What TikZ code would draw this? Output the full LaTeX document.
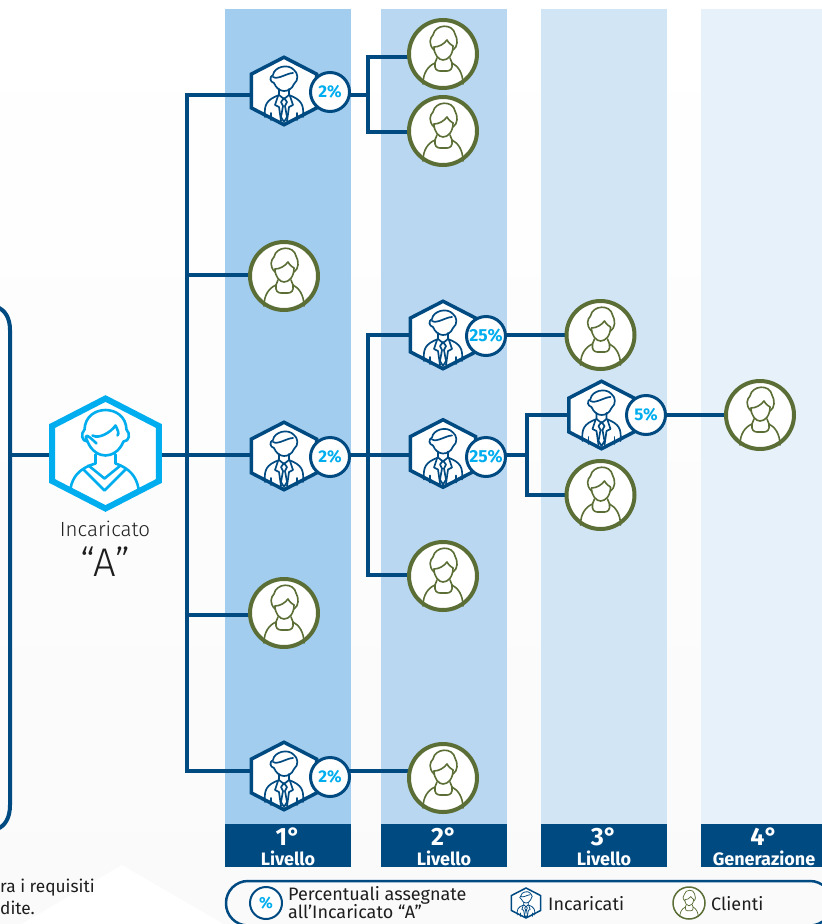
\documentclass[tikz,border=0pt]{standalone}
\usepackage{fontspec}
\setmainfont{Fira Sans}
\newfontfamily\thinfont{Fira Sans Light}
\usetikzlibrary{shapes.geometric,calc}
\definecolor{navy}{HTML}{004A82}
\definecolor{sky}{HTML}{00AEEF}
\definecolor{olive}{HTML}{5A6E35}
\definecolor{bandA}{HTML}{A3CDEE}
\definecolor{bandB}{HTML}{B9D7F0}
\definecolor{bandC}{HTML}{D2E5F5}
\definecolor{bandD}{HTML}{E6F1FA}
\definecolor{papertop}{HTML}{FFFFFF}
\definecolor{paperbot}{HTML}{FAFAFB}
\definecolor{ink}{HTML}{1E1E1E}
\pgfdeclarelayer{bandlayer}
\pgfdeclarelayer{linklayer}
\pgfsetlayers{bandlayer,linklayer,main}
\tikzset{
  x=1pt,y=-1pt,
  link/.style={draw=navy,line width=4pt,line join=miter},
  hexany/.style={regular polygon,regular polygon sides=6,shape border rotate=30,inner sep=0pt,outer sep=0pt,fill=white,xscale=1.12,transform shape},
  hexsmall/.style={hexany,minimum size=67.5pt,draw=navy,line width=3.5pt},
  hexbig/.style={hexany,minimum size=110pt,draw=sky,line width=6pt},
  hexlegend/.style={hexany,minimum size=30pt,draw=navy,line width=1.5pt},
  client/.style={circle,minimum size=68pt,inner sep=0pt,outer sep=0pt,draw=olive,line width=4pt,fill=white},
  clientlegend/.style={circle,minimum size=32pt,inner sep=0pt,outer sep=0pt,draw=olive,line width=1.5pt,fill=white},
  badge/.style={circle,minimum size=39pt,inner sep=0pt,outer sep=0pt,draw=navy,line width=3pt,fill=white,text=sky,font=\bfseries\fontsize{17}{17}\selectfont},
  badgewide/.style={badge,font=\bfseries\fontsize{17.5}{17.5}\selectfont},
  head/.style={fill=navy,text=white,minimum width=126pt,minimum height=43pt,inner sep=0pt,outer sep=0pt},
  ttl/.style={text=white,font=\bfseries\fontsize{18}{18}\selectfont,inner sep=0pt},
  num/.style={text=white,font=\bfseries\fontsize{25}{25}\selectfont,inner sep=0pt},
  txt/.style={text=ink,font=\fontsize{18}{18}\selectfont,inner sep=0pt,anchor=west},
  pics/exec/.style={code={
    \begin{scope}[scale=#1,draw=navy,line width=1.7pt*#1,line cap=round,line join=round]
      \draw (-10,-8) .. controls (-14,-9) and (-15,-14) .. (-11,-16) .. controls (-10,-24) and (4,-28) .. (10,-21) .. controls (14,-18) and (15,-11) .. (10,-7) .. controls (8,-2) and (4,0) .. (0,0) .. controls (-4,0) and (-8,-3) .. (-10,-8) -- cycle;
      \draw (-11,-14) .. controls (-6,-11) and (3,-18) .. (9,-18);
      \draw (-5,-2) -- (-5,4) -- (0,8) -- (5,4) -- (5,-2);
      \draw (-19,26) .. controls (-20,14) and (-18,9) .. (-5,4);
      \draw (19,26) .. controls (20,14) and (18,9) .. (5,4);
      \draw (-6,5) -- (-9,14) -- (-5,16) -- (-3,30);
      \draw (6,5) -- (9,14) -- (5,16) -- (3,30);
      \draw (0,7) -- (-3,11) -- (-1,15) -- (-3,26) -- (0,31) -- (3,26) -- (1,15) -- (3,11) -- cycle;
      \draw (-13,22) -- (-13,29);
      \draw (13,22) -- (13,29);
    \end{scope}}},
  pics/woman/.style={code={
    \begin{scope}[scale=#1,draw=olive,line width=1.6pt*#1,line cap=round,line join=round]
      \draw (-9,-4) .. controls (-15,-10) and (-13,-16) .. (-10,-19) .. controls (-8,-30) and (10,-31) .. (12,-20) .. controls (15,-15) and (15,-7) .. (10,-4);
      \draw (-9,-7) .. controls (-4,-7) and (1,-10) .. (4,-14) .. controls (6,-10) and (9,-9) .. (10,-8);
      \draw (-9,-7) .. controls (-9,1) and (-4,6) .. (0,6) .. controls (5,6) and (10,1) .. (10,-8);
      \draw (-6,4) -- (-8,9) .. controls (-9,15) and (-6,17) .. (-3,17) -- (4,17) .. controls (7,17) and (10,15) .. (9,9) -- (7,4);
      \draw (-8,9) .. controls (-15,12) and (-20,19) .. (-20,30);
      \draw (9,9) .. controls (15,12) and (20,19) .. (20,30);
    \end{scope}}},
  pics/agent/.style={code={
    \begin{scope}[draw=sky,line width=2.6pt,line cap=round,line join=round]
      \draw (-18,-12) .. controls (-24,-12) and (-25,-20) .. (-21,-24) .. controls (-20,-50) and (20,-50) .. (21,-24) .. controls (25,-20) and (24,-12) .. (18,-12) .. controls (14,-2) and (6,2) .. (0,2) .. controls (-6,2) and (-14,-2) .. (-18,-12) -- cycle;
      \draw (-18,-12) .. controls (-22,-20) and (-19,-20) .. (-9,-10);
      \draw (-13,-18) .. controls (-6,-14) and (6,-22) .. (10,-28) .. controls (12,-24) and (14,-20) .. (12,-18);
      \draw (-10,1) -- (-10,10);
      \draw (10,1) -- (10,10);
      \draw (-35,35) .. controls (-33,24) and (-27,15) .. (-10,10);
      \draw (33,35) .. controls (31,24) and (25,15) .. (10,10);
      \draw (-17,12) -- (-1,25) -- (15,12);
      \draw (-22,16) -- (-1,37) -- (20,16);
    \end{scope}}}
}
\begin{document}
\begin{tikzpicture}
\useasboundingbox (0,0) rectangle (822,924);
\begin{pgfonlayer}{bandlayer}
  \clip (0,0) rectangle (822,924);
  \shade[top color=papertop,bottom color=paperbot] (0,0) rectangle (822,924);
  \fill[white] (122,865) -- (225,925) -- (20,925) -- cycle;
  \fill[bandA] (225,9) rectangle (351,824);
  \fill[bandB] (381,9) rectangle (507,824);
  \fill[bandC] (541,9) rectangle (667,824);
  \fill[bandD] (701,9) rectangle (827,824);
\end{pgfonlayer}

% headers
\node[head] (ha) at (288,845.5) {};
\node[head] (hb) at (444,845.5) {};
\node[head] (hc) at (604,845.5) {};
\node[head] (hd) at (764,845.5) {};
\node[num] (na) at (288,836.5) {1°};
\node[ttl] (ta) at (288,858) {Livello};
\node[num] (nb) at (444,836.5) {2°};
\node[ttl] (tb) at (444,858) {Livello};
\node[num] (nc) at (604,836.5) {3°};
\node[ttl] (tc) at (604,858) {Livello};
\node[num] (nd) at (764,836.5) {4°};
\node[ttl] (td) at (764,858) {Generazione};

% left frame
\coordinate (fa) at (-3,307);
\coordinate (fb) at (-3,829);
\draw[navy,line width=4pt] (fa) .. controls (5,310) and (10,318) .. (10,330) -- (10,805) .. controls (10,818) and (5,826) .. (fb);

% main node
\node[hexbig] (A) at (105.5,453.5) {};
\pic at (A.center) {agent};
\node[text=ink,inner sep=0pt,font=\fontsize{20.5}{20.5}\selectfont\thinfont] (Atext) at (105,529) {Incaricato};
\node[text=ink,inner sep=0pt,font=\fontsize{40}{40}\selectfont\thinfont] (Aq) at (105,562) {“A”};

% executives
\foreach \n/\x/\y/\bx/\by/\t/\s in {
  e1/284/91/330/92/2\%/badge,
  e2/284/456/330/457/2\%/badge,
  e3/284/776/330/777/2\%/badge,
  e4/443/335/486/336/25\%/badgewide,
  e5/443/453.5/486/457/25\%/badgewide,
  e6/601.5/415/646/415/5\%/badge}{
  \node[hexsmall] (\n) at (\x,\y) {};
  \pic at (\n.center) {exec=1};
  \node[\s] (b\n) at (\bx,\by) {\t};
}
% clients
\foreach \n/\x/\y in {c1/443/54,c2/443/131,c3/284/276,c4/600.5/335,c5/600.5/495,c6/760/415,c7/443/576,c8/284/613,c9/443/778}{
  \node[client] (\n) at (\x,\y) {};
  \pic at (\n.center) {woman=1};
}

% connectors
\begin{pgfonlayer}{linklayer}
  \coordinate (root) at (10,455);
  \coordinate (t1) at (187,94.5);
  \coordinate (t2) at (187,275);
  \coordinate (t3) at (187,455);
  \coordinate (t4) at (187,615);
  \coordinate (t5) at (187,771);
  \coordinate (u1) at (368,57);
  \coordinate (u2) at (368,94.5);
  \coordinate (u3) at (368,131.5);
  \coordinate (v1) at (368,335);
  \coordinate (v2) at (368,455);
  \coordinate (v3) at (368,575);
  \coordinate (w1) at (527,415);
  \coordinate (w2) at (527,455);
  \coordinate (w3) at (527,495);
  \draw[link] (root) -- (root -| A.center);
  \draw[link] (A.center |- t3) -- (t3);
  \draw[link,line cap=rect] (t1) -- (t5);
  \draw[link] (t1) -- (t1 -| e1.center);
  \draw[link] (t2) -- (t2 -| c3.center);
  \draw[link] (t3) -- (t3 -| e2.center);
  \draw[link] (t4) -- (t4 -| c8.center);
  \draw[link] (t5) -- (t5 -| e3.center);
  \draw[link] (u2 -| be1.center) -- (u2);
  \draw[link] (c1.center |- u1) -- (u1) -- (u3) -- (c2.center |- u3);
  \draw[link] (be2.center |- v2) -- (v2);
  \draw[link] (c7.center |- v3) -- (v3) -- (v1) -- (e4.center |- v1);
  \draw[link] (v2) -- (e5.center |- v2);
  \draw[link] (be4.center |- v1) -- (c4.center |- v1);
  \draw[link] (be5.center |- w2) -- (w2);
  \draw[link] (e6.center |- w1) -- (w1) -- (w3) -- (c5.center |- w3);
  \draw[link] (be6.center) -- (c6.center);
  \draw[link] (be3.center |- t5) -- (c9.center |- t5);
\end{pgfonlayer}

% note text
\node[text=ink,inner sep=0pt,anchor=base west,font=\fontsize{17.3}{17.3}\selectfont] (n1) at (0,892) {ra i requisiti};
\node[text=ink,inner sep=0pt,anchor=base west,font=\fontsize{17.3}{17.3}\selectfont] (n2) at (0,914) {dite.};

% legend
\draw[navy,line width=2.5pt,rounded corners=22pt] (226,881) rectangle (832,925.5);
\node[circle,minimum size=32pt,inner sep=0pt,draw=navy,line width=2pt,fill=white,text=sky,font=\bfseries\fontsize{16}{16}\selectfont] (lp) at (266,903) {\%};
\node[txt] (lt1) at (288,895) {Percentuali assegnate};
\node[txt] (lt2) at (288,911.5) {all’Incaricato “A”};
\node[hexlegend] (lh) at (526,903) {};
\pic at (lh.center) {exec=0.46};
\node[txt] (lt3) at (548,904) {Incaricati};
\node[clientlegend] (lc) at (689,903) {};
\pic at (lc.center) {woman=0.46};
\node[txt] (lt4) at (711,904) {Clienti};
\end{tikzpicture}
\end{document}
